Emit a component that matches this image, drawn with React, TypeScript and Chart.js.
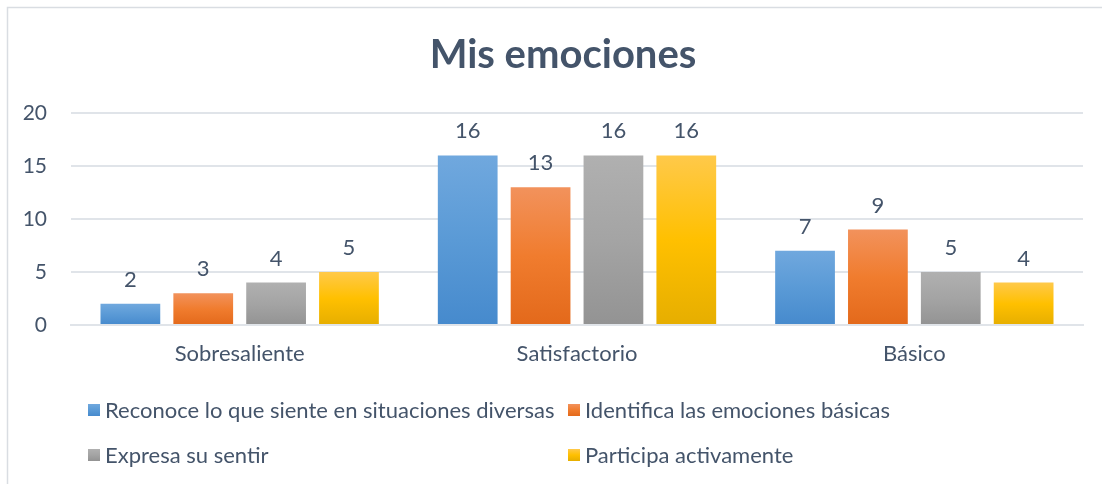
import React, { useEffect, useRef } from "react";
import { Chart, registerables } from "chart.js";

Chart.register(...registerables);

const titleText = "Mis emociones";
const categories = ["Sobresaliente", "Satisfactorio", "Básico"];
const seriesLabels = [
  "Reconoce lo que siente en situaciones diversas",
  "Identifica las emociones básicas",
  "Expresa su sentir",
  "Participa activamente",
];
const reconoce = [2, 16, 7];
const identifica = [3, 13, 9];
const expresa = [4, 16, 5];
const participa = [5, 16, 4];
const yMin = 0;
const yMax = 20;
const yStep = 5;

const gradStops: string[][] = [
  ["#70a8de", "#5a9ad6", "#468acd"],
  ["#f2925c", "#f07c2e", "#e3691b"],
  ["#b0b0b0", "#a4a4a4", "#939393"],
  ["#ffc94a", "#ffc000", "#e6ae00"],
];

const FONT = "Lato, 'Open Sans', sans-serif";
const TEXT = "#44546A";
const GRID = "#e0e4e9";

function makeGrad(ctx: CanvasRenderingContext2D, top: number, bottom: number, i: number) {
  const g = ctx.createLinearGradient(0, top, 0, bottom);
  const s = gradStops[i];
  g.addColorStop(0, s[0]);
  g.addColorStop(0.5, s[1]);
  g.addColorStop(1, s[2]);
  return g;
}

const framePlugin = {
  id: "frame",
  beforeDraw(chart: any) {
    const ctx = chart.ctx as CanvasRenderingContext2D;
    ctx.save();
    ctx.fillStyle = "#ffffff";
    ctx.fillRect(0, 0, chart.width, chart.height);
    ctx.strokeStyle = "#d9dde2";
    ctx.lineWidth = 1.5;
    ctx.beginPath();
    ctx.moveTo(7.5, chart.height);
    ctx.lineTo(7.5, 7.5);
    ctx.lineTo(chart.width, 7.5);
    ctx.stroke();
    ctx.restore();
  },
  afterDraw(chart: any) {
    const ctx = chart.ctx as CanvasRenderingContext2D;
    ctx.save();
    // title
    ctx.fillStyle = TEXT;
    ctx.font = `bold 40px ${FONT}`;
    ctx.textAlign = "center";
    ctx.textBaseline = "alphabetic";
    ctx.fillText(titleText, 563, 68);
    // legend
    const pos = [
      [88, 410],
      [568, 410],
      [88, 455],
      [568, 455],
    ];
    ctx.font = `22px ${FONT}`;
    ctx.textAlign = "left";
    ctx.textBaseline = "middle";
    chart.data.datasets.forEach((ds: any, i: number) => {
      const [x, y] = pos[i];
      ctx.fillStyle = makeGrad(ctx, y - 6, y + 6, i);
      ctx.fillRect(x, y - 6, 12, 12);
      ctx.fillStyle = TEXT;
      ctx.fillText(ds.label, x + 17, y + 1);
    });
    ctx.restore();
  },
  afterDatasetsDraw(chart: any) {
    const ctx = chart.ctx as CanvasRenderingContext2D;
    ctx.save();
    ctx.fillStyle = TEXT;
    ctx.font = `22px ${FONT}`;
    ctx.textAlign = "center";
    ctx.textBaseline = "middle";
    chart.data.datasets.forEach((ds: any, i: number) => {
      const meta = chart.getDatasetMeta(i);
      meta.data.forEach((el: any, j: number) => {
        ctx.fillText(String(ds.data[j]), el.x, el.y - 24);
      });
    });
    ctx.restore();
  },
};

export default function App() {
  const ref = useRef<HTMLCanvasElement | null>(null);
  useEffect(() => {
    document.body.style.margin = "0";
    const canvas = ref.current;
    if (!canvas) return;
    const seriesValues = [reconoce, identifica, expresa, participa];
    const chart = new Chart(canvas, {
      type: "bar",
      data: {
        labels: categories,
        datasets: seriesValues.map((vals, i) => ({
          label: seriesLabels[i],
          data: vals,
          categoryPercentage: 0.864,
          barPercentage: 0.82,
          borderWidth: 0,
          backgroundColor: (c: any) => {
            const ch = c.chart;
            const ys = ch.scales?.y;
            if (!ys || !ch.chartArea || c.raw === undefined) return gradStops[i][1];
            const top = ys.getPixelForValue(c.raw);
            const bottom = ys.getPixelForValue(0);
            if (!isFinite(top) || !isFinite(bottom) || top === bottom) return gradStops[i][1];
            return makeGrad(ch.ctx, top, bottom, i);
          },
        })),
      },
      options: {
        responsive: false,
        animation: false,
        layout: { padding: { top: 113, right: 19, bottom: 109, left: 0 } },
        plugins: {
          legend: { display: false },
          title: { display: false },
          tooltip: { enabled: false },
        },
        scales: {
          x: {
            grid: { display: false, drawTicks: false },
            border: { display: true, color: GRID, width: 2 },
            ticks: { color: TEXT, font: { family: FONT, size: 22 }, padding: 16 },
            afterFit: (s: any) => {
              s.height = 50;
            },
          },
          y: {
            min: yMin,
            max: yMax,
            ticks: { stepSize: yStep, color: TEXT, font: { family: FONT, size: 21 }, padding: 24 },
            grid: { color: GRID, lineWidth: 2, drawTicks: false },
            border: { display: false },
            afterFit: (s: any) => {
              s.width = 71;
            },
          },
        },
      },
      plugins: [framePlugin],
    });
    return () => chart.destroy();
  }, []);
  return (
    <div style={{ width: 1102, height: 484, position: "relative" }}>
      <canvas ref={ref} width={1102} height={484} style={{ display: "block" }} />
    </div>
  );
}
